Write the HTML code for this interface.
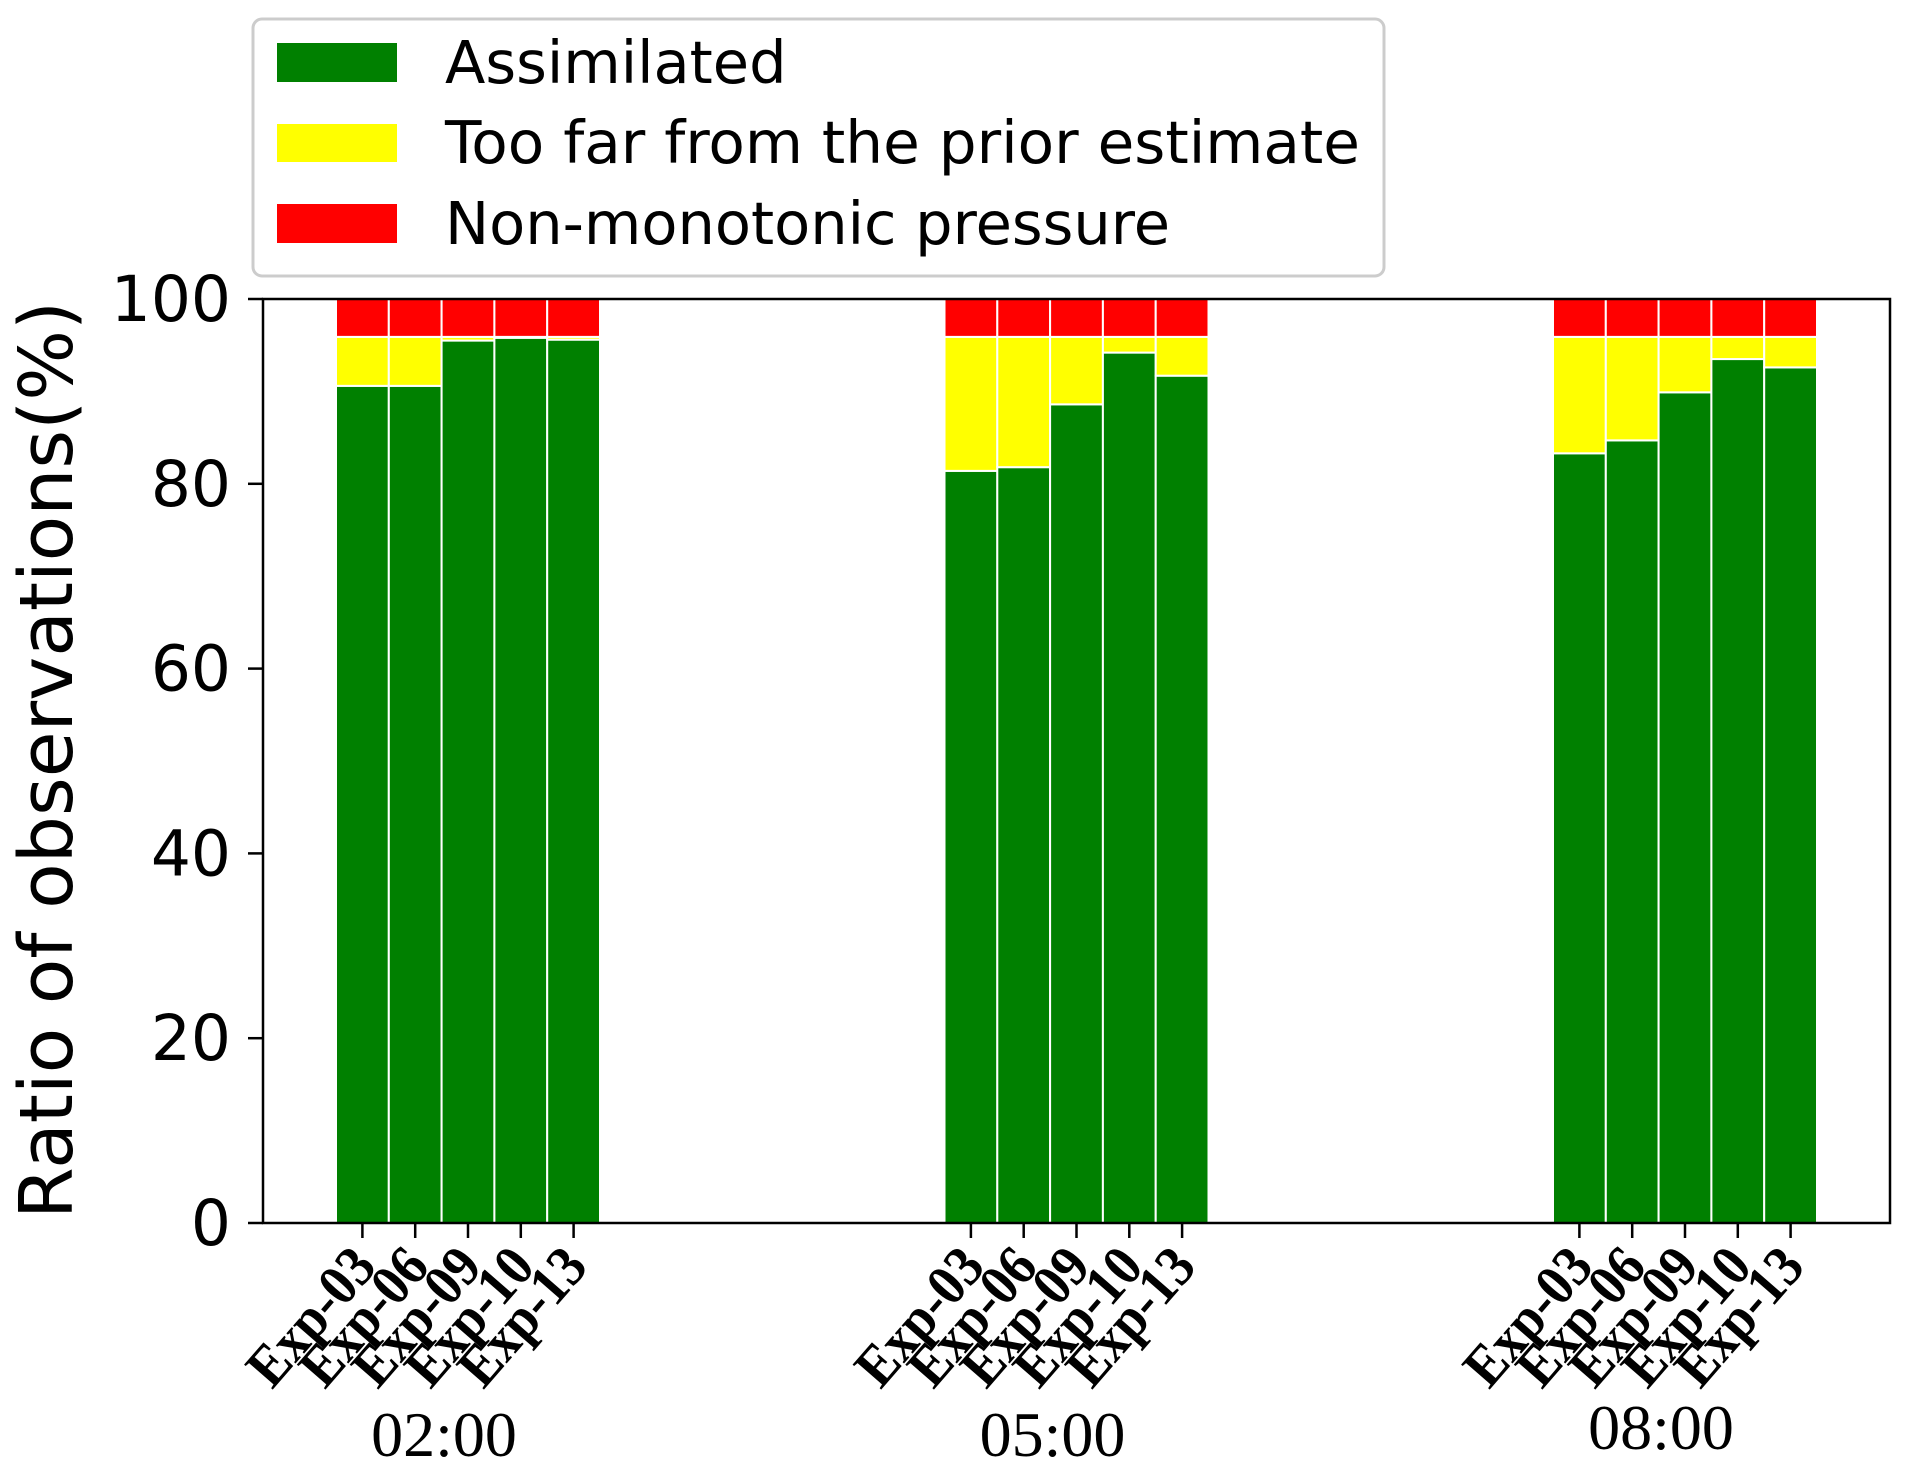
<!DOCTYPE html>
<html><head><meta charset="utf-8"><style>
html,body{margin:0;padding:0;background:#fff;}
svg{display:block;}
</style></head><body>
<svg id="chart" width="1912" height="1480" viewBox="0 0 1912 1480" xmlns="http://www.w3.org/2000/svg">
<rect x="0" y="0" width="1912" height="1480" fill="#fff"/>
<g id="bars"></g>
<g id="axes"></g>
<g>
  <rect x="253" y="19" width="1131" height="257" rx="9" fill="#fff" stroke="#cccccc" stroke-width="3"/>
  <rect x="277" y="43" width="120" height="39" fill="#008000"/>
  <rect x="277" y="124" width="120" height="38" fill="#ffff00"/>
  <rect x="277" y="204" width="120" height="39" fill="#ff0000"/>
  <text x="445" y="83" font-family="DejaVu Sans, sans-serif" font-size="59">Assimilated</text>
  <text x="445" y="163" font-family="DejaVu Sans, sans-serif" font-size="59" textLength="915" lengthAdjust="spacingAndGlyphs">Too far from the prior estimate</text>
  <text x="445" y="244" font-family="DejaVu Sans, sans-serif" font-size="59">Non-monotonic pressure</text>
</g>
<text transform="translate(72,760) rotate(-90)" text-anchor="middle" font-family="DejaVu Sans, sans-serif" font-size="74" textLength="918" lengthAdjust="spacingAndGlyphs">Ratio of observations(%)</text>
</svg>
<script>
const groups = ["02:00", "05:00", "08:00"];
const experiments = ["Exp-03", "Exp-06", "Exp-09", "Exp-10", "Exp-13"];
const assimilated = [
  [90.6, 90.6, 95.5, 95.8, 95.6],
  [81.4, 81.8, 88.6, 94.2, 91.7],
  [83.3, 84.7, 89.9, 93.5, 92.6]
];
const tooFar = [
  [5.3, 5.3, 0.4, 0.1, 0.3],
  [14.5, 14.1, 7.3, 1.7, 4.2],
  [12.6, 11.2, 6.0, 2.4, 3.3]
];
const nonMonotonic = [
  [4.1, 4.1, 4.1, 4.1, 4.1],
  [4.1, 4.1, 4.1, 4.1, 4.1],
  [4.1, 4.1, 4.1, 4.1, 4.1]
];
const yTicks = [0, 20, 40, 60, 80, 100];

const NS = "http://www.w3.org/2000/svg";
const plot = {left: 263, right: 1890, top: 299, bottom: 1223};
const barW = 52.8, groupStart = 336, groupStep = 608.5;
function yScale(v){ return plot.bottom - (v/100)*(plot.bottom - plot.top); }
function xBar(g, i){ return groupStart + g*groupStep + i*barW; }
function mk(tag, attrs){ const e = document.createElementNS(NS, tag); for (const k in attrs) e.setAttribute(k, attrs[k]); return e; }

const barsG = document.getElementById("bars");
const series = [
  {data: assimilated, color: "#008000", name: "assimilated"},
  {data: tooFar, color: "#ffff00", name: "too-far"},
  {data: nonMonotonic, color: "#ff0000", name: "non-monotonic"}
];
groups.forEach((g, gi) => {
  experiments.forEach((ex, ei) => {
    let base = 0;
    series.forEach(s => {
      const v = s.data[gi][ei];
      const y0 = yScale(base), y1 = yScale(base + v);
      const r = mk("rect", {x: xBar(gi, ei), y: y1, width: barW, height: Math.max(0, y0 - y1), fill: s.color, stroke: "#fff", "stroke-width": 2});
      
      
      barsG.appendChild(r);
      base += v;
    });
  });
});

const ax = document.getElementById("axes");
const frame = mk("rect", {x: plot.left, y: plot.top, width: plot.right - plot.left, height: plot.bottom - plot.top, fill: "none", stroke: "#000", "stroke-width": 2.5});


ax.appendChild(frame);

yTicks.forEach(t => {
  const y = yScale(t);
  const tk = mk("line", {x1: plot.left - 15, x2: plot.left, y1: y, y2: y, stroke: "#000", "stroke-width": 2.5});
  
  
  ax.appendChild(tk);
  const tx = mk("text", {x: 231, y: y + 22, "text-anchor": "end", "font-family": "DejaVu Sans, sans-serif", "font-size": 63});
  tx.textContent = t;
  
  
  ax.appendChild(tx);
});

groups.forEach((g, gi) => {
  experiments.forEach((ex, ei) => {
    const cx = xBar(gi, ei) + barW/2;
    const tk = mk("line", {x1: cx, x2: cx, y1: plot.bottom, y2: plot.bottom + 15, stroke: "#000", "stroke-width": 2.5});
    
    
    ax.appendChild(tk);
    const ex0 = cx + 16, ey0 = 1268;
    const tx = mk("text", {x: 0, y: 0, "text-anchor": "end", transform: "translate(" + ex0 + "," + ey0 + ") rotate(-49)", "font-family": "Liberation Serif, serif", "font-size": 58, "font-weight": "bold", textLength: 162, lengthAdjust: "spacingAndGlyphs"});
    tx.textContent = ex;
    
    
    ax.appendChild(tx);
  });
  const gx = xBar(gi, 0) + 2.5*barW - 24;
  const gl = mk("text", {x: gx, y: gi === 2 ? 1449 : 1456, "text-anchor": "middle", "font-family": "Liberation Serif, serif", "font-size": 64});
  gl.textContent = g;
  
  
  ax.appendChild(gl);
});
</script>
</body></html>
